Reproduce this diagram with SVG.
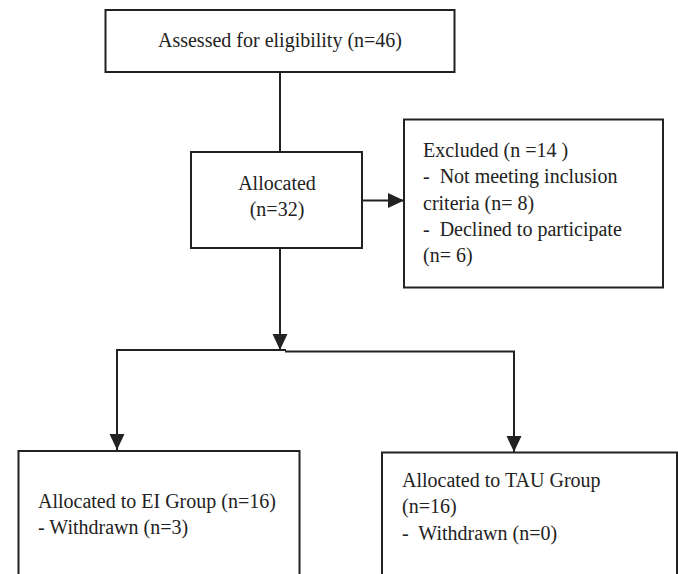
<svg xmlns="http://www.w3.org/2000/svg" width="678" height="574" viewBox="0 0 678 574">
<style>
.box{fill:#fff;stroke:#222;stroke-width:2}
.ln{fill:none;stroke:#222;stroke-width:2}
text{font-family:"Liberation Serif","Times New Roman",serif;font-size:20px;fill:#222;white-space:pre}
</style>
<defs>
<marker id="ah" markerUnits="userSpaceOnUse" markerWidth="16" markerHeight="16" viewBox="0 0 15 14" refX="15" refY="7" orient="auto">
<path d="M0,0 L15,7 L0,14 Z" fill="#222"/>
</marker>
</defs>
<rect width="678" height="574" fill="#fff"/>
<g id="connectors">
<path class="ln" d="M280,72 V152"/>
<path class="ln" d="M362,200.5 H404" marker-end="url(#ah)"/>
<path class="ln" d="M280,248 V350" marker-end="url(#ah)"/>
<path class="ln" d="M286,350 H117 V450" marker-end="url(#ah)"/>
<path class="ln" d="M285,351.5 H514 V452" marker-end="url(#ah)"/>
</g>
<g id="assessed">
<rect class="box" x="105.5" y="10" width="349" height="62"/>
<text x="280" y="47" text-anchor="middle">Assessed for eligibility (n=46)</text>
</g>
<g id="allocated">
<rect class="box" x="191" y="152" width="171" height="96"/>
<text x="277" y="190" text-anchor="middle">Allocated</text>
<text x="277" y="216" text-anchor="middle">(n=32)</text>
</g>
<g id="excluded">
<rect class="box" x="404" y="119.5" width="259" height="168"/>
<text x="423" y="157">Excluded (n =14 )</text>
<text x="423" y="183">-  Not meeting inclusion</text>
<text x="423" y="210">criteria (n= 8)</text>
<text x="423" y="236">-  Declined to participate</text>
<text x="423" y="262">(n= 6)</text>
</g>
<g id="ei-group">
<rect class="box" x="18.5" y="451" width="281" height="140"/>
<text x="38" y="508">Allocated to EI Group (n=16)</text>
<text x="38" y="534">- Withdrawn (n=3)</text>
</g>
<g id="tau-group">
<rect class="box" x="382" y="452.5" width="295" height="140"/>
<text x="402" y="487">Allocated to TAU Group</text>
<text x="402" y="513">(n=16)</text>
<text x="402" y="540">-  Withdrawn (n=0)</text>
</g>
</svg>
